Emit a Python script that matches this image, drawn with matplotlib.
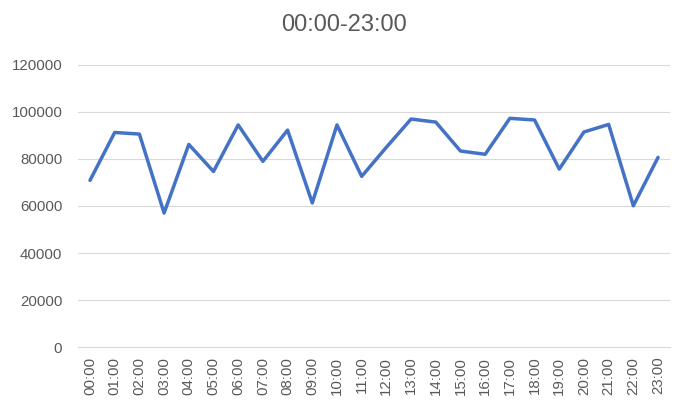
import matplotlib.pyplot as plt

hours = ['%02d:00' % h for h in range(24)]
values = [70900, 91300, 90600, 57000, 86200, 74700, 94500, 79000,
          92300, 61300, 94500, 72600, 85000, 97000, 95700, 83400,
          82000, 97300, 96600, 75700, 91500, 94700, 60100, 80700]

plt.rcParams['font.family'] = ['Liberation Sans', 'DejaVu Sans']

fig = plt.figure(figsize=(6.89, 4.08), dpi=100)
ax = fig.add_axes([0.1127, 0.1495, 0.8603, 0.6912])

x = list(range(len(hours)))
ax.plot(x, values, color='#4472C4', linewidth=2.5, solid_joinstyle='round',
        solid_capstyle='round')

ax.set_xlim(-0.5, len(hours) - 0.5)
ax.set_ylim(0, 120000)
ax.set_yticks(range(0, 120001, 20000))
ax.set_xticks(x)
ax.set_xticklabels(hours, rotation=90)

ax.grid(axis='y', color='#d9d9d9', linewidth=0.8)
ax.set_axisbelow(True)
for s in ['top', 'right', 'left']:
    ax.spines[s].set_visible(False)
ax.spines['bottom'].set_color('#d9d9d9')
ax.spines['bottom'].set_linewidth(0.8)
ax.tick_params(axis='both', length=0, labelsize=10.8, colors='#595959')
ax.tick_params(axis='y', pad=11)
ax.tick_params(axis='x', pad=7)

fig.text(0.5, 0.939, '00:00-23:00', ha='center', va='center',
         fontsize=17, color='#595959')

fig.savefig('out.png', dpi=100)
